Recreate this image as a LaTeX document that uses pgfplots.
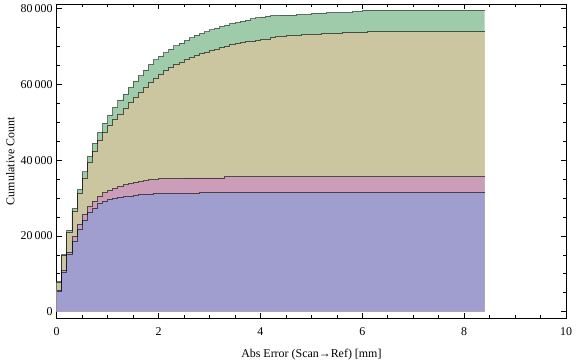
\documentclass[border=0pt]{standalone}
\usepackage{fontspec}
\setmainfont{Liberation Serif}
\usepackage{pgfplots}
\pgfplotsset{compat=1.18}
\usepackage{pgfplotstable}
\usetikzlibrary{calc}
\definecolor{cblue}{RGB}{160,158,206}
\definecolor{cpink}{RGB}{203,157,184}
\definecolor{colive}{RGB}{203,197,160}
\definecolor{cgreen}{RGB}{158,203,170}

\pgfplotstableread{
x y
0 5300
0.1 10400
0.2 15000
0.3 18600
0.4 21800
0.5 24200
0.6 26100
0.7 27300
0.8 28500
0.9 29200
1.0 29600
1.1 30000
1.2 30200
1.3 30400
1.4 30500
1.5 30600
1.6 30900
1.9 31100
2.8 31400
8.4 31400
}\tblue

\pgfplotstableread{
x y
0 5700
0.1 11000
0.2 15700
0.3 19900
0.4 23100
0.5 25700
0.6 27700
0.7 29200
0.8 30500
0.9 31400
1.0 32100
1.1 32600
1.2 33100
1.3 33500
1.4 33900
1.5 34200
1.6 34400
1.7 34600
1.8 34800
2.0 35100
2.5 35300
3.3 35600
8.4 35600
}\tpink

\pgfplotstableread{
x y
0 7600
0.1 14800
0.2 20800
0.3 26600
0.4 31100
0.5 35300
0.6 39300
0.7 42300
0.8 45200
0.9 47300
1.0 49200
1.1 50800
1.2 52200
1.3 53700
1.4 55200
1.5 56600
1.6 57900
1.7 59200
1.8 60400
1.9 61500
2.0 62600
2.1 63600
2.2 64400
2.3 65200
2.4 65900
2.5 66500
2.6 67100
2.7 67600
2.8 68100
2.9 68500
3.0 68900
3.1 69300
3.2 69700
3.3 70000
3.4 70500
3.5 70700
3.6 71000
3.7 71300
3.9 71500
4.0 72000
4.2 72300
4.3 72700
4.5 72900
4.8 73200
5.2 73400
5.6 73600
6.1 73900
8.4 73900
}\tolive

\pgfplotstableread{
x y
0 7900
0.1 15100
0.2 21500
0.3 27300
0.4 32300
0.5 36900
0.6 41000
0.7 44500
0.8 47300
0.9 49800
1.0 51900
1.1 53900
1.2 55900
1.3 57400
1.4 59200
1.5 60900
1.6 62300
1.7 63800
1.8 65300
1.9 66500
2.0 67500
2.1 68400
2.2 69300
2.3 70200
2.4 70900
2.5 71600
2.6 72300
2.7 73000
2.8 73500
2.9 73900
3.0 74400
3.1 74900
3.2 75300
3.3 75700
3.4 76100
3.5 76400
3.6 76700
3.7 77000
3.8 77300
3.9 77600
4.0 77800
4.1 78000
4.2 78200
4.4 78300
4.7 78500
5.0 78800
5.3 79000
5.8 79300
6.0 79600
8.4 79600
}\tgreen

\begin{document}
\fontsize{12}{14}\selectfont
\begin{tikzpicture}
\begin{axis}[
  name=ax,
  scale only axis,
  width=512pt, height=316pt,
  xmin=0, xmax=10,
  ymin=-1760, ymax=81230,
  xtick={0,2,...,10},
  ytick={0,20000,40000,60000,80000},
  minor x tick num=3,
  minor y tick num=3,
  scaled y ticks=false,
  tick align=inside,
  major tick length=5pt,
  minor tick length=3pt,
  axis line style={line width=0.8pt},
  every tick/.style={black, line width=0.6pt},
  /pgf/number format/1000 sep={\,},
  /pgf/number format/assume math mode=true,
  ticklabel style={font=\fontsize{12}{14}\selectfont},
  xticklabel style={yshift=-5pt},
  label style={font=\fontsize{12}{14}\selectfont},
  xlabel={Abs Error (Scan→Ref) [mm]},
  ylabel={Cumulative Count},
  xlabel style={yshift=-5pt},
  ylabel style={yshift=-2pt},
  clip=true,
]
\addplot[const plot, fill=cgreen, draw=none] table {\tgreen} \closedcycle;
\addplot[const plot, fill=colive, draw=none] table {\tolive} \closedcycle;
\addplot[const plot, fill=cpink, draw=none] table {\tpink} \closedcycle;
\addplot[const plot, fill=cblue, draw=none] table {\tblue} \closedcycle;
\addplot[const plot, draw=black, draw opacity=0.5, line width=0.8pt] table {\tgreen};
\addplot[const plot, draw=black, draw opacity=0.6, line width=0.8pt] table {\tolive};
\addplot[const plot, draw=black, draw opacity=0.6, line width=0.8pt] table {\tpink};
\addplot[const plot, draw=black, draw opacity=0.6, line width=0.8pt] table {\tblue};
\end{axis}
\path ($(ax.south west)+(-57pt,-40pt)$) rectangle ($(ax.north east)+(7pt,4pt)$);
\end{tikzpicture}
\end{document}
